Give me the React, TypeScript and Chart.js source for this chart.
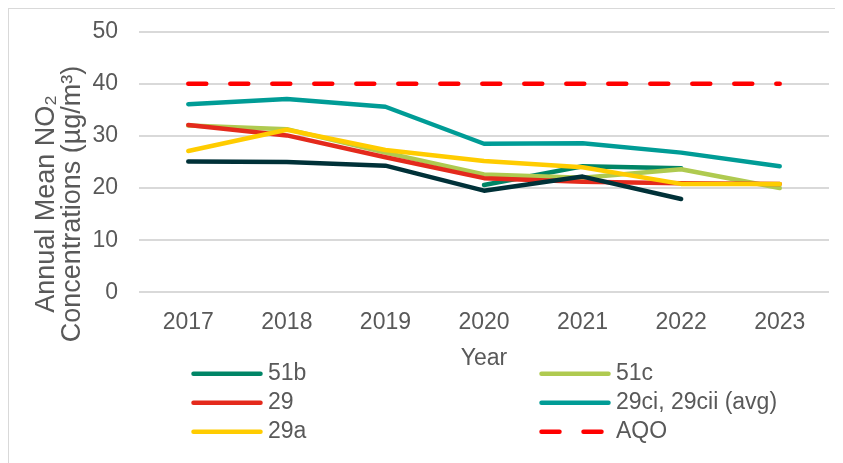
import React, { useEffect, useRef } from 'react';
import { Chart, registerables } from 'chart.js';

Chart.register(...registerables);

const years = ['2017', '2018', '2019', '2020', '2021', '2022', '2023'];
const site51b = [null, null, null, 20.6, 24.2, 23.8, null];
const site51c = [32.0, 31.3, 26.8, 22.6, 22.0, 23.6, 20.0];
const site29 = [32.1, 30.1, 25.9, 21.9, 21.2, 20.9, 20.8];
const site29ci = [36.1, 37.1, 35.6, 28.5, 28.6, 26.8, 24.2];
const site29a = [27.1, 31.2, 27.3, 25.2, 24.0, 20.8, 20.8];
const siteUnlabelled = [25.1, 25.0, 24.3, 19.5, 22.2, 17.9, null];
const aqo = [40, 40, 40, 40, 40, 40, 40];
const yTicks = [0, 10, 20, 30, 40, 50];
const yTitleLines = ['Annual Mean NO\u2082', 'Concentrations (\u00b5g/m\u00b3)'];
const xTitle = 'Year';

const TEXT = '#595959';
const FAMILY = "'Liberation Sans', Arial, sans-serif";

const gridLegend = {
  id: 'gridLegend',
  afterDraw(chart: any) {
    const ctx = chart.ctx;
    const items = chart.data.datasets.filter((d: any) => d.inLegend);
    const colX = [182, 530];
    const rowY = [364.7, 393.7, 422.7];
    items.forEach((ds: any, i: number) => {
      const x = colX[i % 2];
      const y = rowY[Math.floor(i / 2)];
      ctx.save();
      ctx.strokeStyle = ds.borderColor;
      ctx.lineWidth = ds.borderWidth;
      ctx.lineCap = 'round';
      ctx.setLineDash(ds.borderDash || []);
      ctx.beginPath();
      ctx.moveTo(x + 2.5, y);
      ctx.lineTo(x + 69.5, y);
      ctx.stroke();
      ctx.setLineDash([]);
      ctx.fillStyle = TEXT;
      ctx.font = `23px ${FAMILY}`;
      ctx.textBaseline = 'middle';
      ctx.textAlign = 'left';
      ctx.fillText(ds.label, x + 77, y);
      ctx.restore();
    });
  },
};

const yTitle = {
  id: 'yTitle',
  afterDraw(chart: any) {
    const ctx = chart.ctx;
    ctx.save();
    ctx.fillStyle = TEXT;
    ctx.font = `27px ${FAMILY}`;
    ctx.textBaseline = 'middle';
    ctx.textAlign = 'center';
    yTitleLines.forEach((line, i) => {
      ctx.save();
      ctx.translate(38 + i * 26, 195);
      ctx.rotate(-Math.PI / 2);
      ctx.fillText(line, 0, 0);
      ctx.restore();
    });
    ctx.restore();
  },
};

export default function App() {
  const ref = useRef<HTMLCanvasElement | null>(null);

  useEffect(() => {
    if (!ref.current) return;
    const base = {
      borderWidth: 4.5,
      pointRadius: 0,
      tension: 0,
      borderCapStyle: 'round',
      borderJoinStyle: 'round',
      fill: false,
    };
    const chart = new Chart(ref.current, {
      type: 'line',
      data: {
        labels: years,
        datasets: [
          { ...base, label: '51b', data: site51b, borderColor: '#008566', inLegend: true, order: 6 },
          { ...base, label: '51c', data: site51c, borderColor: '#afca50', inLegend: true, order: 5 },
          { ...base, label: '29', data: site29, borderColor: '#e42a1c', inLegend: true, order: 4 },
          { ...base, label: '29ci, 29cii (avg)', data: site29ci, borderColor: '#009c96', inLegend: true, order: 1 },
          { ...base, label: '29a', data: site29a, borderColor: '#ffcc00', inLegend: true, order: 3 },
          { ...base, label: 'AQO', data: aqo, borderColor: '#ff0000', borderDash: [18, 24], inLegend: true, order: 0 },
          { ...base, label: '', data: siteUnlabelled, borderColor: '#003138', inLegend: false, order: 2 },
        ] as any,
      },
      options: {
        animation: false,
        responsive: true,
        maintainAspectRatio: false,
        layout: { padding: { top: 22.7, right: 14, bottom: 90.7, left: 0 } },
        plugins: { legend: { display: false }, tooltip: { enabled: false } },
        scales: {
          x: {
            offset: true,
            grid: { display: false, drawTicks: false },
            border: { display: false },
            ticks: { color: TEXT, font: { family: FAMILY, size: 23 }, padding: 17, maxRotation: 0 },
            title: { display: true, text: xTitle, color: TEXT, font: { family: FAMILY, size: 23 }, padding: 0 },
            afterFit(s: any) { s.height = 80; },
          },
          y: {
            min: 0,
            max: 50,
            afterBuildTicks(s: any) { s.ticks = yTicks.map((v) => ({ value: v })); },
            ticks: { color: TEXT, font: { family: FAMILY, size: 23 }, padding: 21 },
            grid: { color: '#d9d9d9', lineWidth: 2, drawTicks: false },
            border: { display: false },
            title: { display: false },
            afterFit(s: any) {
              s.width = 130;
              s.paddingTop = 0;
              s.paddingBottom = 0;
            },
          },
        },
      } as any,
      plugins: [gridLegend, yTitle],
    });
    return () => chart.destroy();
  }, []);

  return (
    <div
      style={{
        width: 835,
        height: 455,
        borderTop: '1px solid #d9d9d9',
        borderLeft: '1px solid #d9d9d9',
        boxSizing: 'border-box',
      }}
    >
      <div style={{ position: 'relative', width: 834, height: 454 }}>
        <canvas ref={ref} />
      </div>
    </div>
  );
}
